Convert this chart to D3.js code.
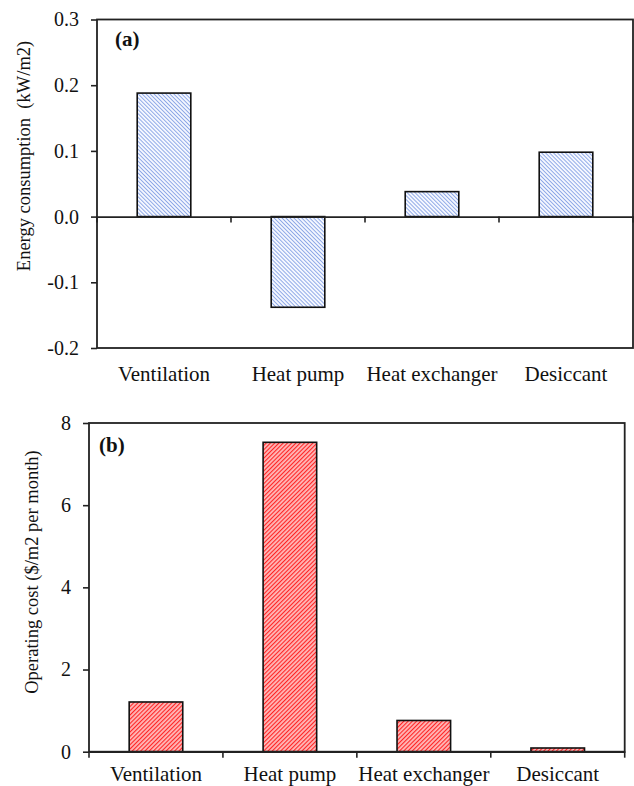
<!DOCTYPE html>
<html>
<head>
<meta charset="utf-8">
<script src="https://cdn.jsdelivr.net/npm/d3@7"></script>
<style>
  html, body { margin: 0; padding: 0; background: #fff; }
  svg { display: block; }
  text { font-family: "Liberation Serif", "Times New Roman", serif; fill: #111; }
</style>
</head>
<body>
<svg id="chart" width="634" height="786"></svg>
<script>
// ---- data ----
const categories = ["Ventilation", "Heat pump", "Heat exchanger", "Desiccant"];
const energyValues = [0.188, -0.138, 0.038, 0.098];
const costValues = [1.21, 7.53, 0.76, 0.09];
const energyTicks = [-0.2, -0.1, 0.0, 0.1, 0.2, 0.3];
const costTicks = [0, 2, 4, 6, 8];
const energyTitle = "Energy consumption  (kW/m2)";
const costTitle = "Operating cost ($/m2 per month)";

const svg = d3.select("#chart");
const defs = svg.append("defs");

// hatch patterns
function hatch(id, bg, color, width, size, dir) {
  const p = defs.append("pattern")
    .attr("id", id).attr("patternUnits", "userSpaceOnUse")
    .attr("width", size).attr("height", size)
    .attr("patternTransform", `rotate(${dir})`);
  p.append("rect").attr("width", size).attr("height", size).attr("fill", bg);
  p.append("line").attr("x1", 0).attr("y1", 0).attr("x2", 0).attr("y2", size)
    .attr("stroke", color).attr("stroke-width", width);
}
hatch("blueHatch", "#f4f7ff", "#7393e0", 1.5, 2.8, -45);
hatch("redHatch", "#ffb8b8", "#ff2424", 2.2, 3, 45);

function panel(opts) {
  const g = svg.append("g");
  const x = d3.scaleBand().domain(categories).range([opts.left, opts.right]).paddingInner(0.6).paddingOuter(0.3);
  const xb = d3.scaleBand().domain(categories).range([opts.left, opts.right]);
  const y = d3.scaleLinear().domain(opts.domain).range([opts.bottom, opts.top]);

  // bars
  g.selectAll("rect.bar").data(categories.map((c, i) => ({ c, v: opts.values[i] })))
    .enter().append("rect").attr("class", "bar")
    .attr("x", d => x(d.c))
    .attr("width", x.bandwidth())
    .attr("y", d => y(Math.max(0, d.v)))
    .attr("height", d => Math.abs(y(d.v) - y(0)))
    .attr("fill", `url(#${opts.pattern})`)
    .attr("stroke", "#111").attr("stroke-width", 1.6);

  // frame
  g.append("rect")
    .attr("x", opts.left).attr("y", opts.top)
    .attr("width", opts.right - opts.left).attr("height", opts.bottom - opts.top)
    .attr("fill", "none").attr("stroke", "#222").attr("stroke-width", 1.8);

  // zero line with category ticks
  const zeroAxis = d3.axisBottom(xb).tickSize(0).tickFormat("");
  const zg = g.append("g").attr("transform", `translate(0,${y(0)})`).call(zeroAxis);
  zg.select(".domain").attr("stroke", "#222").attr("stroke-width", 1.8);
  g.selectAll("line.ctick").data(d3.range(categories.length + 1)).enter()
    .append("line").attr("class", "ctick")
    .attr("x1", i => opts.left + i * xb.step()).attr("x2", i => opts.left + i * xb.step())
    .attr("y1", y(0)).attr("y2", y(0) + 6)
    .attr("stroke", "#222").attr("stroke-width", 1.6);

  // y axis
  const ya = d3.axisLeft(y).tickValues(opts.ticks).tickSize(6).tickPadding(12)
    .tickFormat(opts.fmt);
  const yg = g.append("g").attr("transform", `translate(${opts.left},0)`).call(ya);
  yg.select(".domain").remove();
  yg.selectAll(".tick line").attr("stroke", "#222").attr("stroke-width", 1.6);
  yg.selectAll(".tick text").style("font-family", '"Liberation Serif", serif')
    .style("font-size", "20px").attr("fill", "#111");

  // category labels
  g.selectAll("text.cat").data(categories).enter().append("text")
    .attr("class", "cat")
    .attr("x", d => xb(d) + xb.bandwidth() / 2)
    .attr("y", opts.bottom + opts.catGap)
    .attr("text-anchor", "middle")
    .style("font-size", "21px")
    .text(d => d);

  // y title
  g.append("text")
    .attr("transform", `translate(${opts.titleX},${opts.titleY}) rotate(-90)`)
    .attr("text-anchor", "middle")
    .style("font-size", "18.5px")
    .style("white-space", "pre")
    .text(opts.title);

  // panel label
  g.append("text")
    .attr("x", opts.labelX).attr("y", opts.labelY)
    .style("font-size", "21px").style("font-weight", "bold")
    .text(opts.label);
}

panel({
  left: 97, right: 633, top: 19.5, bottom: 348,
  domain: [-0.2, 0.3], values: energyValues, ticks: energyTicks,
  fmt: d => d.toFixed(1), pattern: "blueHatch", catGap: 33,
  title: energyTitle, titleX: 30, titleY: 156,
  label: "(a)", labelX: 115, labelY: 46
});

panel({
  left: 89, right: 624.7, top: 423, bottom: 751.7,
  domain: [0, 8], values: costValues, ticks: costTicks,
  fmt: d => String(d), pattern: "redHatch", catGap: 29,
  title: costTitle, titleX: 38, titleY: 572,
  label: "(b)", labelX: 99, labelY: 452
});
</script>
</body>
</html>
